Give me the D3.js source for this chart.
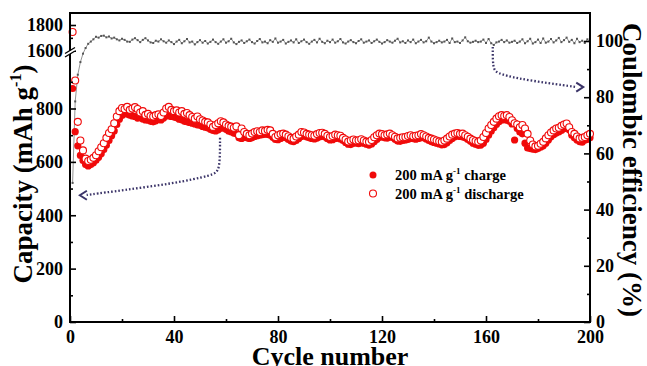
<!DOCTYPE html>
<html>
<head>
<meta charset="utf-8">
<script src="https://cdn.jsdelivr.net/npm/d3@7"></script>
<style>
  body { margin: 0; background: #fff; }
  svg text { font-family: "Liberation Serif", "Times New Roman", serif; font-weight: bold; }
</style>
</head>
<body>
<svg id="chart" width="647" height="366"></svg>
<script>
// cycle 1..200
const discharge = [
  1745, 905, 750, 680, 643, 612, 603, 608, 615, 625,
  640, 655, 670, 690, 708, 722, 745, 770, 790, 802,
  798, 806, 795, 800, 805, 798, 785, 790, 776, 780,
  772, 770, 775, 778, 772, 785, 800, 806, 795, 790,
  793, 785, 790, 780, 783, 775, 768, 762, 770, 760,
  755, 750, 748, 740, 731, 738, 745, 752, 748, 740,
  735, 732, 728, 733, 700, 725, 712, 705, 700, 706,
  712, 715, 712, 718, 716, 720, 718, 705, 693, 700,
  704, 706, 702, 696, 690, 687, 695, 702, 712, 710,
  705, 702, 700, 698, 704, 708, 709, 705, 698, 693,
  697, 702, 700, 698, 690, 684, 676, 680, 684, 680,
  681, 685, 680, 676, 675, 682, 692, 700, 706, 704,
  700, 703, 706, 700, 694, 688, 690, 692, 693, 697,
  700, 696, 698, 700, 704, 700, 695, 690, 687, 684,
  680, 677, 675, 680, 687, 695, 702, 706, 708, 705,
  706, 700, 694, 687, 682, 678, 675, 680, 693, 708,
  725, 738, 750, 762, 771, 775, 772, 775, 768, 756,
  745, 740, 730, 738, 725, 705, 680, 665, 658, 660,
  668, 675, 688, 700, 710, 718, 725, 728, 735, 740,
  744, 730, 712, 705, 695, 688, 690, 693, 700, 705
];
const charge = [
  875, 713, 660, 624, 605, 590, 585, 590, 597, 606,
  617, 630, 646, 662, 680, 698, 716, 740, 760, 774,
  781, 779, 775, 772, 770, 764, 766, 761, 757, 756,
  752, 750, 754, 760, 757, 764, 774, 772, 770, 768,
  765, 760, 758, 752, 750, 748, 745, 742, 739, 737,
  733, 730, 727, 722, 718, 716, 720, 726, 728, 722,
  716, 712, 708, 705, 690, 688, 692, 690, 688, 690,
  695, 698, 700, 702, 704, 703, 700, 692, 684, 683,
  688, 692, 690, 684, 678, 676, 680, 688, 695, 698,
  694, 690, 688, 686, 689, 694, 696, 694, 687, 682,
  683, 688, 689, 686, 680, 673, 666, 665, 670, 671,
  668, 672, 670, 666, 663, 667, 675, 684, 692, 694,
  690, 689, 693, 692, 685, 678, 677, 680, 682, 684,
  688, 687, 685, 688, 690, 690, 686, 680, 676, 673,
  670, 667, 664, 665, 672, 680, 688, 694, 697, 695,
  694, 690, 684, 677, 670, 666, 662, 663, 670, 684,
  700, 715, 728, 740, 750, 757, 758, 756, 752, 742,
  682, 725, 712, 705, 670, 652, 650, 648, 646, 650,
  655, 660, 670, 682, 694, 702, 708, 712, 718, 724,
  728, 720, 700, 690, 682, 676, 674, 681, 684, 690
];
const efficiency = [
  49.5, 78.5, 88, 92.5, 95.5, 97.5, 99, 99.8, 100.6, 101.5,
  101.2, 101.8, 101.9, 101.3, 101.6, 100.9, 101.2, 100.6, 100.2, 100.8,
  100.4, 99.8, 99.7, 100.5, 101, 100.3, 99.6, 100.4, 101, 100.2,
  99.5, 99.3, 100.1, 99.8, 100.6, 99.9, 99.4, 100.2, 99.6, 98.9,
  99.8, 100.4, 99.2, 99.9, 100.7, 99.5, 99.8, 98.8, 99.6, 100.3,
  99.4, 100, 99.1, 99.7, 100.5, 99.6, 99, 99.8, 100.6, 99.4,
  99.9, 100.8, 99.5, 98.9, 99.7, 100.2, 99.3, 99.9, 100.5, 99.6,
  99.1, 100, 100.7, 99.5, 99.8, 99.2, 100.3, 99.7, 100.9, 99.4,
  99.8, 100.4, 99.1, 99.7, 100.2, 99.5, 100.6, 99.3, 99.9, 100.5,
  99.6, 99, 99.8, 100.4, 99.5, 100.8, 99.7, 99.2, 100.1, 99.6,
  100.5, 99.4, 99.9, 100.7, 99.5, 99.1, 99.8, 100.3, 99.6, 99.2,
  100, 100.6, 99.4, 99.8, 100.2, 99.3, 99.9, 100.5, 99.7, 99.1,
  99.6, 100.3, 99.8, 99.4, 100.1, 100.8, 99.5, 99.9, 99.3, 100.2,
  99.6, 100.5, 99.2, 99.8, 100.4, 99.5, 99.9, 101.2, 99.8, 99.2,
  99.6, 100.1, 99.5, 99.8, 100.4, 99.3, 100.9, 99.6, 99.8, 99.3,
  100.2, 101.3, 99.9, 99.4, 99.7, 100.1, 99.6, 99.8, 100.5, 99.3,
  100.7, 99.2, 98.6, 99.5, 99.8, 100.4, 99.6, 100.2, 99.4, 99.7,
  100.1, 99.3, 99.8, 100.6, 99.2, 99.9, 100.8, 99.1, 99.6, 100.5,
  99.3, 100.9, 99.4, 99.8, 100.7, 99.5, 100.2, 101.1, 99.6, 100.3,
  101.2, 99.7, 100.4, 99.2, 100.8, 99.6, 100.1, 99.3, 100.6, 99.4
];
const xTicks = [0, 40, 80, 120, 160, 200];
const xMinor = [20, 60, 100, 140, 180];
const capTicks = [0, 200, 400, 600, 800];
const capMinor = [100, 300, 500, 700, 900];
const capHighTicks = [1600, 1800];
const capHighMinor = [1700];
const ceTicks = [0, 20, 40, 60, 80, 100];
const ceMinor = [10, 30, 50, 70, 90];
const legendItems = [
  { label: 'charge', filled: true },
  { label: 'discharge', filled: false }
];
// annotation arrows, in data units (cycle, capacity) / (cycle, efficiency)
const capArrow = [[57.7, 690], [57.7, 568], [55.1, 550], [39.7, 519], [20.5, 494], [6.4, 476], [3.8, 475]];
const ceArrow = [[162.6, 97.9], [162.6, 90.4], [164.1, 88.5], [171.8, 86.7], [184.6, 84.9], [194.9, 83.6], [197.4, 83.6]];

const cycles = d3.range(1, 201);
const red = '#f00a0a';
const arrowColor = '#3b3468';
const fontFamily = '"Liberation Serif", "Times New Roman", serif';

let svg = d3.select('#chart');
let plotLeft = 70, plotRight = 590, plotTop = 13, plotBottom = 322;

let x = d3.scaleLinear().domain([0, 200]).range([plotLeft, plotRight]);
let yLow = d3.scaleLinear().domain([0, 800]).range([plotBottom, 108.5]);
let yUp = d3.scaleLinear().domain([1600, 1800]).range([50.7, 25]);
let yCap = v => v > 1300 ? yUp(v) : yLow(v);
let yCE = d3.scaleLinear().domain([0, 100]).range([plotBottom, 41]);

// coulombic efficiency
let ceData = cycles.map((c, i) => [c, efficiency[i]]);
svg.append('path')
  .datum(ceData)
  .attr('fill', 'none')
  .attr('stroke', '#777')
  .attr('stroke-width', 0.8)
  .attr('d', d3.line().x(d => x(d[0])).y(d => yCE(d[1])));
svg.append('g').selectAll('rect')
  .data(ceData)
  .enter()
  .append('rect')
  .attr('x', d => x(d[0]) - 1)
  .attr('y', d => yCE(d[1]) - 1)
  .attr('width', 2)
  .attr('height', 2)
  .attr('fill', '#555');

// charge (filled) then discharge (open) on top
svg.append('g').selectAll('circle')
  .data(cycles)
  .enter()
  .append('circle')
  .attr('cx', c => x(c))
  .attr('cy', (c, i) => yCap(charge[i]))
  .attr('r', 3.6)
  .attr('fill', red);
svg.append('g').selectAll('circle')
  .data(cycles)
  .enter()
  .append('circle')
  .attr('cx', c => x(c))
  .attr('cy', (c, i) => yCap(discharge[i]))
  .attr('r', 3.5)
  .attr('fill', '#fff')
  .attr('stroke', red)
  .attr('stroke-width', 1.1);

// arrows
function drawArrow(pts, yScale, dir) {
  let body = pts.slice(0, pts.length - 1);
  svg.append('path')
    .attr('d', d3.line().x(d => x(d[0])).y(d => yScale(d[1])).curve(d3.curveBasis)(body))
    .attr('fill', 'none')
    .attr('stroke', arrowColor)
    .attr('stroke-width', 2.3)
    .attr('stroke-dasharray', '1.6,2');
  let tip = pts[pts.length - 1];
  let tx = x(tip[0]), ty = yScale(tip[1]);
  svg.append('path')
    .attr('d', `M${tx + dir * 7},${ty - 4.5}L${tx},${ty}L${tx + dir * 7},${ty + 4.5}`)
    .attr('fill', 'none')
    .attr('stroke', arrowColor)
    .attr('stroke-width', 2);
}
drawArrow(capArrow, yCap, 1);
drawArrow(ceArrow, yCE, -1);

// axes
function styleAxis(g) {
  g.attr('font-family', fontFamily)
    .attr('font-size', 18)
    .attr('font-weight', 'bold');
  g.select('.domain').remove();
  g.selectAll('line').attr('stroke', '#000').attr('stroke-width', 1.6);
}
let fmt = d3.format('d');
let xg = svg.append('g')
  .attr('transform', `translate(0,${plotBottom})`)
  .call(d3.axisBottom(x).tickValues(xTicks).tickSize(-6).tickSizeOuter(0).tickPadding(8).tickFormat(fmt));
styleAxis(xg);
let xmg = svg.append('g')
  .attr('transform', `translate(0,${plotBottom})`)
  .call(d3.axisBottom(x).tickValues(xMinor).tickSize(-3).tickSizeOuter(0).tickFormat(''));
styleAxis(xmg);

let lg = svg.append('g')
  .attr('transform', `translate(${plotLeft},0)`)
  .call(d3.axisLeft(yLow).tickValues(capTicks).tickSize(-6).tickSizeOuter(0).tickPadding(7).tickFormat(fmt));
styleAxis(lg);
let lmg = svg.append('g')
  .attr('transform', `translate(${plotLeft},0)`)
  .call(d3.axisLeft(yLow).tickValues(capMinor).tickSize(-3).tickSizeOuter(0).tickFormat(''));
styleAxis(lmg);
let ug = svg.append('g')
  .attr('transform', `translate(${plotLeft},0)`)
  .call(d3.axisLeft(yUp).tickValues(capHighTicks).tickSize(-6).tickSizeOuter(0).tickPadding(7).tickFormat(fmt));
styleAxis(ug);
let umg = svg.append('g')
  .attr('transform', `translate(${plotLeft},0)`)
  .call(d3.axisLeft(yUp).tickValues(capHighMinor).tickSize(-3).tickSizeOuter(0).tickFormat(''));
styleAxis(umg);

let rg = svg.append('g')
  .attr('transform', `translate(${plotRight},0)`)
  .call(d3.axisRight(yCE).tickValues(ceTicks).tickSize(-6).tickSizeOuter(0).tickPadding(6).tickFormat(fmt));
styleAxis(rg);
let rmg = svg.append('g')
  .attr('transform', `translate(${plotRight},0)`)
  .call(d3.axisRight(yCE).tickValues(ceMinor).tickSize(-3).tickSizeOuter(0).tickFormat(''));
styleAxis(rmg);

// frame
svg.append('rect')
  .attr('x', plotLeft).attr('y', plotTop)
  .attr('width', plotRight - plotLeft).attr('height', plotBottom - plotTop)
  .attr('fill', 'none')
  .attr('stroke', '#000')
  .attr('stroke-width', 2);

// axis break on the left
let yb = 52.5;
svg.append('path')
  .attr('d', `M${plotLeft - 5},${yb + 1}L${plotLeft + 5},${yb - 5}L${plotLeft + 5},${yb - 1.5}L${plotLeft - 5},${yb + 4.5}Z`)
  .attr('fill', '#fff');
svg.append('path')
  .attr('d', `M${plotLeft - 5},${yb + 1}L${plotLeft + 5},${yb - 5}M${plotLeft - 5},${yb + 4.5}L${plotLeft + 5},${yb - 1.5}`)
  .attr('stroke', '#000')
  .attr('stroke-width', 1.4);

// titles
svg.append('text')
  .attr('x', (plotLeft + plotRight) / 2)
  .attr('y', 365)
  .attr('text-anchor', 'middle')
  .attr('font-size', 26)
  .text('Cycle number');

let lt = svg.append('text')
  .attr('transform', `translate(32,174) rotate(-90)`)
  .attr('text-anchor', 'middle')
  .attr('font-size', 27);
lt.append('tspan').text('Capacity (mAh g');
lt.append('tspan').attr('font-size', 16).attr('dy', -11).text('-1');
lt.append('tspan').attr('dy', 11).text(')');

svg.append('text')
  .attr('transform', `translate(623,170) rotate(90)`)
  .attr('text-anchor', 'middle')
  .attr('font-size', 27)
  .text('Coulombic efficiency (%)');

// legend
let legend = svg.append('g').attr('transform', 'translate(373,175)');
legendItems.forEach((item, i) => {
  let row = legend.append('g').attr('transform', `translate(0,${i * 18.5})`);
  row.append('circle')
    .attr('r', 3.5)
    .attr('fill', item.filled ? red : '#fff')
    .attr('stroke', red)
    .attr('stroke-width', item.filled ? 0 : 1.1);
  let t = row.append('text')
    .attr('x', 22)
    .attr('y', 5)
    .attr('font-size', 14.5);
  t.append('tspan').text('200 mA g');
  t.append('tspan').attr('font-size', 9).attr('dy', -6).text('-1');
  t.append('tspan').attr('dy', 6).text(' ' + item.label);
});
</script>
</body>
</html>
